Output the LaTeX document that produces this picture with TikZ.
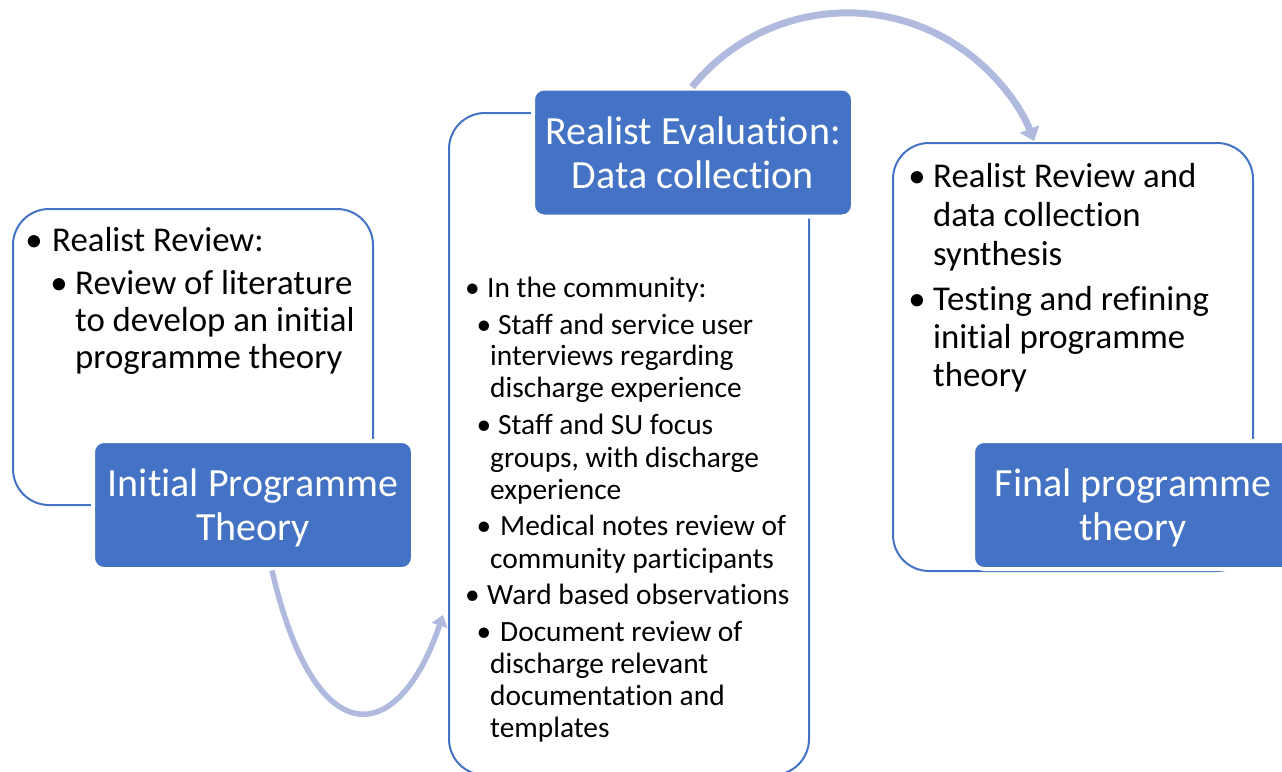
\documentclass[tikz,border=0pt]{standalone}
\usepackage{fontspec}
\setmainfont{Carlito}[Ligatures={NoCommon,NoRequired,NoContextual},Contextuals=NoAlternate]
\usetikzlibrary{arrows.meta,calc}
\definecolor{accblue}{RGB}{68,114,196}
\definecolor{arrowc}{RGB}{176,186,222}
\begin{document}
\begin{tikzpicture}[x=1pt,y=-1pt,
  outline/.style={draw=accblue, line width=2pt, rounded corners=36pt, inner sep=0pt, outer sep=0pt},
  bluebox/.style={fill=accblue, draw=white, line width=4pt, rounded corners=11pt,
    minimum width=320pt, minimum height=128pt, text=white, align=center,
    inner sep=0pt, outer sep=0pt, font=\fontsize{40}{44}\selectfont},
  bigtxt/.style={anchor=base west, inner sep=0pt, font=\fontsize{34.8}{38}\selectfont},
  smalltxt/.style={anchor=base west, inner sep=0pt, font=\fontsize{29.4}{32}\selectfont},
  bigbul/.style={anchor=base, inner sep=0pt, font=\fontsize{34.8}{38}\selectfont},
  smallbul/.style={anchor=base, inner sep=0pt, font=\fontsize{29.4}{32}\selectfont},
  flowtop/.style={draw=arrowc, line width=7pt, -{Triangle[width=20pt,length=13pt]}},
  flowbot/.style={draw=arrowc, line width=5.5pt, -{Triangle[width=16pt,length=11pt]}}
]
\useasboundingbox (0,0) rectangle (1282,771);

% outline boxes
\node[outline, minimum width=360pt, minimum height=296pt] (lbox) at (193,357) {};
\node[outline, minimum width=360pt, minimum height=662pt] (mbox) at (629,444) {};
\node[outline, minimum width=360pt, minimum height=428pt] (rbox) at (1073,357) {};

% left box text
\node[bigbul] (lb1) at (34,251) {\textbullet};
\node[bigtxt] (l1) at (52,251) {Realist Review:};
\node[bigbul] (lb2) at (59,294) {\textbullet};
\node[bigtxt] (l2) at (75,294) {Review of literature};
\node[bigtxt] (l3) at (75,331) {to develop an initial};
\node[bigtxt] (l4) at (75,368) {programme theory};

% middle box text
\node[smallbul] (mb1) at (472.5,297) {\textbullet};
\node[smalltxt] (m1) at (487,297) {In the community:};
\node[smallbul] (mb2) at (484,334) {\textbullet};
\node[smalltxt] (m2) at (498,334) {Staff and service user};
\node[smalltxt] (m3) at (490,365) {interviews regarding};
\node[smalltxt] (m4) at (490,397) {discharge experience};
\node[smallbul] (mb3) at (484,434) {\textbullet};
\node[smalltxt] (m5) at (498,434) {Staff and SU focus};
\node[smalltxt] (m6) at (490,467) {groups, with discharge};
\node[smalltxt] (m7) at (490,499) {experience};
\node[smallbul] (mb4) at (484,535) {\textbullet};
\node[smalltxt] (m8) at (500,535) {Medical notes review of};
\node[smalltxt] (m9) at (490,568) {community participants};
\node[smallbul] (mb5) at (472.5,604) {\textbullet};
\node[smalltxt] (m10) at (487,604) {Ward based observations};
\node[smallbul] (mb6) at (484,641) {\textbullet};
\node[smalltxt] (m11) at (500,641) {Document review of};
\node[smalltxt] (m12) at (490,673) {discharge relevant};
\node[smalltxt] (m13) at (490,705) {documentation and};
\node[smalltxt] (m14) at (490,737) {templates};

% right box text
\node[bigbul] (rb1) at (917,187) {\textbullet};
\node[bigtxt] (r1) at (933,187) {Realist Review and};
\node[bigtxt] (r2) at (933,226) {data collection};
\node[bigtxt] (r3) at (933,265) {synthesis};
\node[bigbul] (rb2) at (917,310) {\textbullet};
\node[bigtxt] (r4) at (933,310) {Testing and refining};
\node[bigtxt] (r5) at (933,348) {initial programme};
\node[bigtxt] (r6) at (933,386) {theory};

% blue title boxes
\node[bluebox] (lblue) at (253,505) {\rule{0pt}{34pt}Initial Programme\\Theory};
\node[bluebox] (mblue) at (693,152.5) {Realist Evaluation:\\Data collection};
\node[bluebox] (rblue) at (1133,505) {\rule{0pt}{34pt}Final programme\\theory};

% connectors
\coordinate (t1) at ($(mblue.north)+(-1,-1.5)$);
\draw[flowtop] (t1) arc[start angle=-141, end angle=-21, radius=200];
\coordinate (b1) at ($(lblue.south)+(19,1.5)$);
\coordinate (b2) at ($(mbox.west)+(-6,171)$);
\draw[flowbot] (b1) .. controls +(43,186) and +(-45,133) .. (b2);
\end{tikzpicture}
\end{document}
